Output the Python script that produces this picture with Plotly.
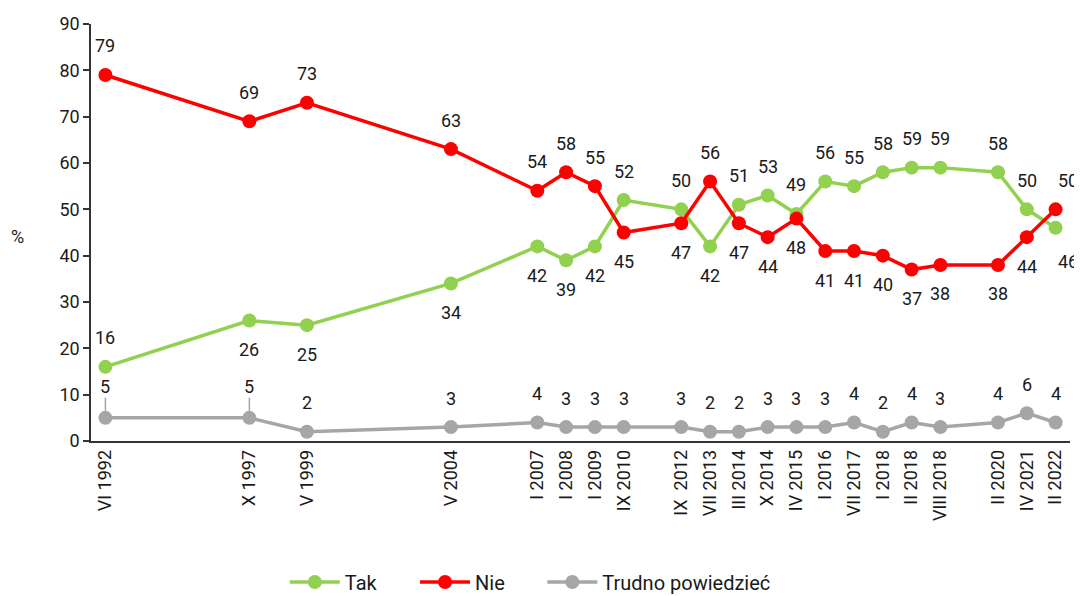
import plotly.graph_objects as go

categories = ["VI 1992", "X 1997", "V 1999", "V 2004", "I 2007", "I 2008", "I 2009",
              "IX 2010", "IX  2012", "VII 2013", "III 2014", "X 2014", "IV 2015",
              "I 2016", "VII 2017", "I 2018", "II 2018", "VIII 2018", "II 2020",
              "IV 2021", "II 2022"]
# slot index of each survey on the category axis (empty slots between)
slots = [0, 5, 7, 12, 15, 16, 17, 18, 20, 21, 22, 23, 24, 25, 26, 27, 28, 29, 31, 32, 33]

tak = [16, 26, 25, 34, 42, 39, 42, 52, 50, 42, 51, 53, 49, 56, 55, 58, 59, 59, 58, 50, 46]
nie = [79, 69, 73, 63, 54, 58, 55, 45, 47, 56, 47, 44, 48, 41, 41, 40, 37, 38, 38, 44, 50]
trudno = [5, 5, 2, 3, 4, 3, 3, 3, 3, 2, 2, 3, 3, 3, 4, 2, 4, 3, 4, 6, 4]

# label placement: 1 = above, -1 = below
tak_lab = [1, -1, -1, -1, -1, -1, -1, 1, 1, -1, 1, 1, 1, 1, 1, 1, 1, 1, 1, 1, -1]
nie_lab = [1, 1, 1, 1, 1, 1, 1, -1, -1, 1, -1, -1, -1, -1, -1, -1, -1, -1, -1, -1, 1]

GREEN = "#92d050"
RED = "#ff0000"
GRAY = "#a6a6a6"
TXT = "#1a1a1a"
FONT = "Roboto"
FS = 18      # tick and data labels
FSL = 20     # legend

fig = go.Figure()
series = [("Tak", tak, GREEN, "legend"), ("Nie", nie, RED, "legend2"),
          ("Trudno powiedzieć", trudno, GRAY, "legend3")]
for name, vals, col, lg in series:
    fig.add_trace(go.Scatter(
        x=slots, y=vals, name=name, mode="lines+markers",
        line=dict(color=col, width=3.5),
        marker=dict(color=col, size=14),
        hoverinfo="skip", legend=lg,
    ))

annotations = []
n = len(slots)
for i in range(n):
    last = (i == n - 1)
    annotations.append(dict(x=slots[i], y=tak[i], text=str(tak[i]), showarrow=False,
                            yshift=29 * tak_lab[i] - (5 if last else 0), xshift=12 if last else 0,
                            font=dict(family=FONT, size=FS, color=TXT)))
    annotations.append(dict(x=slots[i], y=nie[i], text=str(nie[i]), showarrow=False,
                            yshift=29 * nie_lab[i], xshift=12 if last else 0,
                            font=dict(family=FONT, size=FS, color=TXT)))
    if i < 2:
        annotations.append(dict(x=slots[i], y=trudno[i], text=str(trudno[i]), showarrow=True,
                                arrowhead=0, arrowwidth=1.5, arrowcolor=GRAY, ax=0, ay=-31,
                                standoff=7, borderpad=0,
                                font=dict(family=FONT, size=FS, color=TXT)))
    else:
        annotations.append(dict(x=slots[i], y=trudno[i], text=str(trudno[i]), showarrow=False,
                                yshift=29,
                                font=dict(family=FONT, size=FS, color=TXT)))

annotations.append(dict(x=-0.0746, y=0.49, xref="paper", yref="paper", text="%",
                        xanchor="center", yanchor="middle",
                        showarrow=False, font=dict(family=FONT, size=FS, color=TXT)))

leg_common = dict(orientation="h", xanchor="left", y=-0.338, yanchor="middle",
                  font=dict(family=FONT, size=FSL, color=TXT), itemwidth=50,
                  bgcolor="rgba(0,0,0,0)")

# page body has an 8px default margin: figure is sized/offset to compensate
fig.update_layout(
    width=1074, height=588,
    margin=dict(l=83, r=12, t=16, b=155, autoexpand=False),
    paper_bgcolor="white", plot_bgcolor="white",
    font=dict(family=FONT, size=FS, color=TXT),
    showlegend=True,
    legend=dict(x=0.198, **leg_common),
    legend2=dict(x=0.331, **leg_common),
    legend3=dict(x=0.461, **leg_common),
    annotations=annotations,
    xaxis=dict(range=[-0.5, 33.5], tickmode="array", tickvals=slots, ticktext=categories,
               tickangle=-90, showline=True, linecolor="#333", linewidth=1.5,
               showgrid=False, zeroline=False, ticks="", automargin=False,
               tickfont=dict(family=FONT, size=FS, color=TXT)),
    yaxis=dict(range=[0, 90], dtick=10, showline=True, linecolor="#333", linewidth=1.5,
               ticks="outside", ticklen=6, tickcolor="#333", tickwidth=1.5,
               showgrid=False, zeroline=False, automargin=False,
               tickfont=dict(family=FONT, size=FS, color=TXT)),
)

fig.write_html("out.html")
